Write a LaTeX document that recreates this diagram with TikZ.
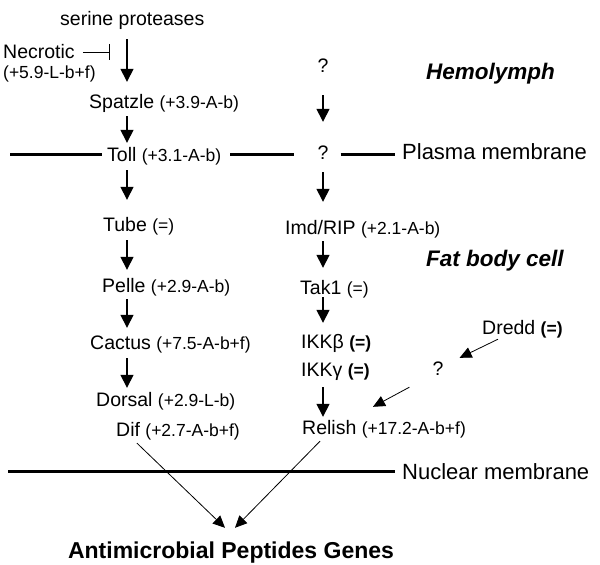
\documentclass[tikz,border=0pt]{standalone}
\usepackage{fontspec}
\setmainfont{Liberation Sans}
\usepackage{tikz}
\usetikzlibrary{arrows.meta}
\usetikzlibrary{calc}

\newcommand{\mainfs}{\fontsize{19.5bp}{22bp}\selectfont}
\newcommand{\valfs}{\fontsize{17.5bp}{20bp}\selectfont}
\newcommand{\val}[1]{{\valfs #1}}

\tikzset{
  gene/.style={anchor=base west, inner xsep=3bp, inner ysep=3bp, text height=14bp, text depth=4bp, font=\mainfs},
  unknown/.style={gene, anchor=base},
  region/.style={anchor=base west, inner sep=0pt, font=\fontsize{22.5bp}{26bp}\selectfont\bfseries\itshape},
  membrane/.style={anchor=base west, inner sep=3bp, font=\fontsize{22bp}{26bp}\selectfont},
  amp/.style={anchor=base, inner sep=3bp, text height=17bp, text depth=5bp, font=\fontsize{23bp}{27bp}\selectfont\bfseries},
  sig/.style={line width=1.5bp, -{Triangle[width=13bp,length=13bp]}, shorten <=1bp, shorten >=1bp},
  thin sig/.style={line width=0.8bp, -{Triangle[width=11bp,length=12bp]}},
  inhib/.style={line width=0.8bp, -{Bar[width=16bp]}},
  memb/.style={line width=3bp}
}

\begin{document}
\begin{tikzpicture}[x=1bp,y=-1bp]
\useasboundingbox (0,0) rectangle (600,565);
\coordinate (lx) at (127,0);
\coordinate (rx) at (323,0);
\coordinate (pm) at (10,155);
\coordinate (nm) at (8,471);
\coordinate (nbar) at (110,52);

% Toll branch
\node[gene] (serine) at (57,26) {serine proteases};
\node[gene] (necrotic) at (0,59) {Necrotic};
\node[gene] (necval) at (0,79) {\val{(+5.9-L-b+f)}};
\node[gene] (spatzle) at (86,109) {Spatzle \val{(+3.9-A-b)}};
\node[gene] (toll) at (104,162) {Toll \val{(+3.1-A-b)}};
\node[gene] (tube) at (100,231) {Tube \val{(=)}};
\node[gene] (pelle) at (99,292) {Pelle \val{(+2.9-A-b)}};
\node[gene] (cactus) at (87,349) {Cactus \val{(+7.5-A-b+f)}};
\node[gene] (dorsal) at (93,406) {Dorsal \val{(+2.9-L-b)}};
\node[gene] (dif) at (113,436) {Dif \val{(+2.7-A-b+f)}};

% Imd branch
\node[unknown] (qtop) at (323,73) {?};
\node[unknown] (qmid) at (323,160) {?};
\node[gene] (imd) at (282,234) {Imd/RIP \val{(+2.1-A-b)}};
\node[gene] (tak) at (297,294) {Tak1 \val{(=)}};
\node[gene] (ikkb) at (298,348) {IKKβ \val{\textbf{(=)}}};
\node[gene] (ikkg) at (298,376) {IKKγ \val{\textbf{(=)}}};
\node[gene] (relish) at (299,434) {Relish \val{(+17.2-A-b+f)}};
\node[unknown] (qright) at (438,375) {?};
\node[gene] (dredd) at (479,334) {Dredd \val{\textbf{(=)}}};

% compartments
\node[region] (hemo) at (426,80) {Hemolymph};
\node[region] (fatbody) at (426,266) {Fat body cell};
\node[membrane] (plasma) at (399,160) {Plasma membrane};
\node[membrane] (nuclear) at (399,479) {Nuclear membrane};
\node[amp] (amp) at (231,558) {Antimicrobial Peptides Genes};

% membranes
\draw[memb, shorten >=2bp] (pm) -- (toll.west |- pm);
\draw[memb, shorten <=6bp, shorten >=20bp] (toll.east |- pm) -- (qmid.west |- pm);
\draw[memb, shorten <=9bp, shorten >=4bp] (qmid.east |- pm) -- (plasma.west |- pm);
\draw[memb, shorten >=4bp] (nm) -- (nuclear.west |- nm);

% Toll arrows
\draw[inhib, shorten <=5bp] (necrotic.east |- nbar) -- (nbar);
\draw[sig, shorten <=6bp, shorten >=10bp] (serine.south -| lx) -- (spatzle.north -| lx);
\draw[sig, shorten <=0bp, shorten >=2bp] (spatzle.south -| lx) -- (toll.north -| lx);
\draw[sig, shorten >=14bp] (toll.south -| lx) -- (tube.north -| lx);
\draw[sig, shorten <=2bp, shorten >=5bp] (tube.south -| lx) -- (pelle.north -| lx);
\draw[sig, shorten <=0bp, shorten >=4bp] (pelle.south -| lx) -- (cactus.north -| lx);
\draw[sig, shorten <=2bp] (cactus.south -| lx) -- (dorsal.north -| lx);

% Imd arrows
\draw[sig, shorten <=15bp, shorten >=21bp] (qtop.south -| rx) -- (qmid.north -| rx);
\draw[sig, shorten <=5bp, shorten >=15bp] (qmid.south -| rx) -- (imd.north -| rx);
\draw[sig, shorten <=0bp, shorten >=9bp] (imd.south -| rx) -- (tak.north -| rx);
\draw[sig, shorten <=-4bp, shorten >=8bp] (tak.south -| rx) -- (ikkb.north -| rx);
\draw[sig, shorten <=4bp, shorten >=0bp] (ikkg.south -| rx) -- (relish.north -| rx);
\draw[thin sig] ([xshift=19bp,yshift=2bp]dredd.south west) -- ([xshift=13bp]qright.north east);
\draw[thin sig] ([xshift=-20bp,yshift=-5bp]qright.south west) -- ([xshift=74bp,yshift=10bp]relish.north west);

% to the nucleus
\draw[thin sig] ([xshift=24bp]dif.south west) -- ([xshift=-6bp,yshift=10bp]amp.north);
\draw[thin sig] ([xshift=21bp]relish.south west) -- ([xshift=4bp,yshift=10bp]amp.north);
\end{tikzpicture}
\end{document}
